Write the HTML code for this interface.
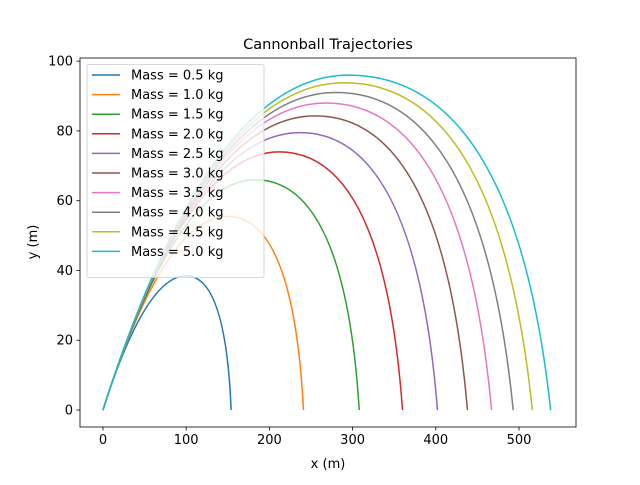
<!DOCTYPE html>
<html><head><meta charset="utf-8"><style>
body{margin:0;background:#fff}
svg text{font-family:"DejaVu Sans","Liberation Sans",sans-serif;fill:#000}
</style></head><body>
<svg id="chart" width="640" height="480" xmlns="http://www.w3.org/2000/svg">
<rect width="640" height="480" fill="#fff"/>
<text x="328" y="49" font-size="14.5" text-anchor="middle">Cannonball Trajectories</text>
<g id="plot"></g>
<text x="328" y="468" font-size="13" text-anchor="middle">x (m)</text>
<text transform="translate(37,242) rotate(-90)" font-size="13" text-anchor="middle">y (m)</text>
</svg>
<script>
const masses=["0.5","1.0","1.5","2.0","2.5","3.0","3.5","4.0","4.5","5.0"];
const ranges=[154,241,308,360,402,438,467,493,516,538];
const peakX=[100,150,183,212,237,255,268,280,290,295];
const peakY=[38.5,55.5,66,74,79.5,84.3,88,91,93.8,96];
const impactSlopes=[6,4.5,3.8,3.3,3,2.8,2.6,2.4,2.3,2.2];
const launchSlope=0.75;
const xTicks=[0,100,200,300,400,500];
const yTicks=[0,20,40,60,80,100];
const colors=["#1f77b4","#ff7f0e","#2ca02c","#d62728","#9467bd","#8c564b","#e377c2","#7f7f7f","#bcbd22","#17becf"];
const L=80,R=576,T=58,B=427,xmin=-27.6,xmax=568.5,ymin=-4.87,ymax=100.9;
const sx=v=>L+(v-xmin)/(xmax-xmin)*(R-L);
const sy=v=>B-(v-ymin)/(ymax-ymin)*(B-T);
const NS="http://www.w3.org/2000/svg";
const g=document.getElementById('plot');
function mk(t,a){const e=document.createElementNS(NS,t);for(const k in a)e.setAttribute(k,a[k]);return e;}
masses.forEach((m,i)=>{
  const px=peakX[i],py=peakY[i],rg=ranges[i];
  const q1x=py/launchSlope, q2x=rg-py/impactSlopes[i];
  const c1=[2/3*q1x,2/3*py], c2=[px+2/3*(q1x-px),py];
  const c3=[px+2/3*(q2x-px),py], c4=[rg+2/3*(q2x-rg),2/3*py];
  const d=`M${sx(0)},${sy(0)} C${sx(c1[0])},${sy(c1[1])} ${sx(c2[0])},${sy(c2[1])} ${sx(px)},${sy(py)} C${sx(c3[0])},${sy(c3[1])} ${sx(c4[0])},${sy(c4[1])} ${sx(rg)},${sy(0)}`;
  const p=mk('path',{d:d,fill:'none',stroke:colors[i],'stroke-width':1.5});
  
  
  g.appendChild(p);
});
const frame=mk('rect',{x:L,y:T,width:R-L,height:B-T,fill:'none',stroke:'#000','stroke-width':0.8});


g.appendChild(frame);
xTicks.forEach(v=>{
  const x=sx(v);
  const t=mk('line',{x1:x,x2:x,y1:B,y2:B+3.5,stroke:'#000','stroke-width':0.8});
  
  
  g.appendChild(t);
  const l=mk('text',{x:x,y:B+17,'font-size':13,'text-anchor':'middle'});l.textContent=v;
  
  
  g.appendChild(l);
});
yTicks.forEach(v=>{
  const y=sy(v);
  const t=mk('line',{x1:L-3.5,x2:L,y1:y,y2:y,stroke:'#000','stroke-width':0.8});
  
  
  g.appendChild(t);
  const l=mk('text',{x:L-7,y:y+4.5,'font-size':13,'text-anchor':'end'});l.textContent=v;
  
  
  g.appendChild(l);
});
const lg=mk('g',{});


g.appendChild(lg);
lg.appendChild(mk('rect',{x:87,y:64.5,width:177,height:213,rx:2,fill:'#fff','fill-opacity':0.8,stroke:'#ccc','stroke-width':0.8}));
masses.forEach((m,i)=>{
  const y=75+i*19.6;
  const e=mk('g',{});
  
  
  e.appendChild(mk('line',{x1:92,x2:120,y1:y,y2:y,stroke:colors[i],'stroke-width':1.5}));
  const t=mk('text',{x:131,y:y+4.5,'font-size':13});t.textContent='Mass = '+m+' kg';
  e.appendChild(t);lg.appendChild(e);
});
</script>
</body></html>
